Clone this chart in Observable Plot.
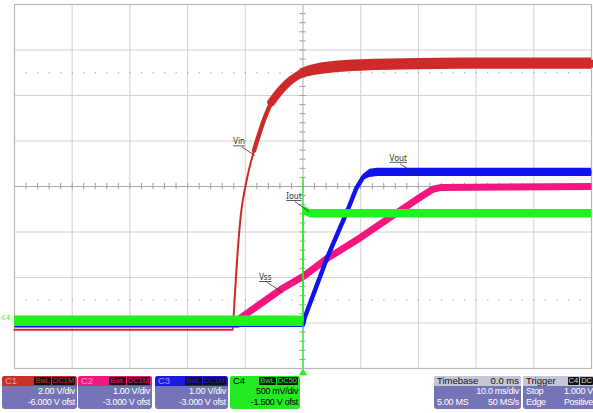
<!DOCTYPE html>
<html><head><meta charset="utf-8">
<script src="https://cdn.jsdelivr.net/npm/d3@7"></script>
<script src="https://cdn.jsdelivr.net/npm/@observablehq/plot@0.6"></script>
<style>
body{margin:0;background:#fff;font-family:"Liberation Sans",Arial,sans-serif;}
#wrap{width:593px;height:413px;position:relative;overflow:hidden;background:#fff;}
#wrap svg{display:block;}
.lbl text{text-decoration:underline;}
.box{position:absolute;top:376px;height:33px;border-radius:3px;background:#7474b6;color:#fff;font-size:9px;overflow:hidden;box-sizing:border-box;}
.hd{height:10px;line-height:10px;padding:0 2px 0 3px;position:relative;font-size:9.5px;}
.ln{height:11px;line-height:11px;padding:0 2px 0 3px;position:relative;letter-spacing:-0.3px;}
.r{position:absolute;right:2px;top:0;}
.l{position:absolute;left:3px;top:0;}
.bd{display:inline-block;background:#111;border-radius:1px;padding:0 1px;height:8px;line-height:8px;font-size:7.5px;margin-left:1px;margin-top:1px;vertical-align:top;}
</style></head>
<body><div id="wrap"></div>
<script>
// Channel settings
const chNames = ["C1", "C2", "C3", "C4"];
const vdiv = [2, 1, 1, 0.5];
const offsets = [-6, -3, -3, -1.5];
const vdivLabels = ["2.00 V/div", "1.00 V/div", "1.00 V/div", "500 mV/div"];
const ofstLabels = ["-6.000 V ofst", "-3.000 V ofst", "-3.000 V ofst", "-1.500 V ofst"];
const couplingLabels = ["DC1M", "DC1M", "DC1M", "DC50"];
const headerColors = ["#c9302c", "#f0187f", "#1c1ce0", "#22ea22"];
const traceColors = ["#cf2a2a", "#f2167e", "#1212ee", "#1ff21f"];

// Vin (C1)
const vinT = [-50, -12.15, -11.96, -11.27, -10.75, -9.88, -8.49, -6.8, -5.5, -3.8, -2.1, -0.35, 2, 4.85, 10, 20, 35, 50];
const vinV = [-0.3, -0.3, 0.55, 3.32, 4.81, 6.13, 7.58, 8.9, 9.7, 10.26, 10.68, 10.95, 11.12, 11.23, 11.32, 11.38, 11.4, 11.4];
const vinN = [0, 0, 0, 0, 0, 0, 0, 0, 0, 0, 0.05, 0.2, 0.24, 0.25, 0.25, 0.25, 0.25, 0.25];
// Vss (C2)
const vssT = [-50, -11.3, -10.75, -3.8, 0, 4.2, 10, 15.8, 20.5, 22.5, 24, 35, 50];
const vssV = [-0.03, -0.03, 0.12, 0.74, 1.02, 1.42, 1.88, 2.38, 2.78, 2.94, 2.98, 2.99, 3.0];
const vssN = [0.03, 0.03, 0.03, 0.03, 0.03, 0.03, 0.03, 0.03, 0.03, 0.04, 0.04, 0.04, 0.04];
// Vout (C3)
const voutT = [-50, 0, 0.3, 4.2, 7.8, 9.2, 10.4, 11.6, 13, 30, 50];
const voutV = [-0.04, -0.04, 0.12, 1.44, 2.5, 2.95, 3.2, 3.29, 3.31, 3.31, 3.31];
const voutN = [0.02, 0.02, 0.02, 0.02, 0.02, 0.03, 0.06, 0.09, 0.09, 0.09, 0.09];
// Iout (C4)
const ioutT = [-50, 0, 0, 0.4, 1.2, 50];
const ioutV = [0.02, 0.02, 1.22, 1.23, 1.2, 1.2];
const ioutN = [0.058, 0.058, 0.047, 0.047, 0.047, 0.047];

// Trace labels (time ms, screen divisions)
const labelText = ["Vin", "Vout", "Iout", "Vss"];
const labelT = [-12.1, 15.0, -2.9, -7.6];
const labelY = [0.98, 0.62, -0.22, -2.0];
const leadT1 = [-10.6, 16.8, -1.4, -6.2];
const leadY1 = [0.87, 0.50, -0.33, -2.11];
const leadT2 = [-8.3, 19.8, 1.0, -3.5];
const leadY2 = [0.68, 0.26, -0.55, -2.33];

const toDiv = (v, ch) => (v + offsets[ch]) / vdiv[ch];
function rows(ch, T, V, N) {
  return T.map((t, i) => ({t, y: toDiv(V[i], ch), y1: toDiv(V[i] - N[i], ch), y2: toDiv(V[i] + N[i], ch)}));
}
// stroke width segments (style): [from, to, width]
const traces = [
  {ch: 0, data: rows(0, vinT, vinV, vinN), segs: [[-50, -8.49, 2], [-8.49, -5.5, 4.5], [-5.5, 50, 8]], curve: "monotone-x", cap: "round"},
  {ch: 1, data: rows(1, vssT, vssV, vssN), segs: [[-50, 50, 7]], curve: "linear", cap: "butt"},
  {ch: 2, data: rows(2, voutT, voutV, voutN), segs: [[-50, 50, 4.5]], curve: "linear", cap: "butt"},
  {ch: 3, data: rows(3, ioutT, ioutV, ioutN), segs: [[-50, 50, 1.5]], curve: "linear", cap: "butt"}
];
const labels = labelText.map((s, i) => ({s, t: labelT[i], y: labelY[i], t1: leadT1[i], y1: leadY1[i], t2: leadT2[i], y2: leadY2[i]}));

const minorX = d3.range(-50, 50.01, 2);
const minorY = d3.range(-4, 4.01, 0.2);
const green = traceColors[3];

const traceMarks = traces.flatMap(tr => [
  Plot.areaY(tr.data.filter(d => d.y2 > d.y1), {x: "t", y1: "y1", y2: "y2", fill: traceColors[tr.ch], curve: tr.curve}),
  ...tr.segs.map(([a, b, w]) =>
    Plot.line(tr.data.filter(d => d.t >= a && d.t <= b), {x: "t", y: "y", stroke: traceColors[tr.ch], strokeWidth: w, curve: tr.curve, strokeLinecap: tr.cap}))
]);

const chart = Plot.plot({
  width: 593, height: 376,
  marginLeft: 14, marginRight: 2, marginTop: 4, marginBottom: 8,
  x: {domain: [-50, 50], axis: null},
  y: {domain: [-4, 4], axis: null},
  style: {overflow: "visible", background: "transparent"},
  marks: [
    Plot.ruleX(d3.range(-40, 50, 10).filter(d => d !== 0), {stroke: "#d2d2d2"}),
    Plot.ruleY(d3.range(-3, 4, 1).filter(d => d !== 0), {stroke: "#d2d2d2"}),
    Plot.ruleY([-2.5, 2.5], {stroke: "#9a9a9a", strokeDasharray: "1.2,10.34"}),
    Plot.ruleX([0], {stroke: "#b0b0b0"}),
    Plot.ruleY([0], {stroke: "#a8a8a8"}),
    Plot.ruleX(minorX, {x: d => d, y1: -0.07, y2: 0.07, stroke: "#a0a0a0"}),
    Plot.ruleY(minorY, {y: d => d, x1: -0.55, x2: 0.55, stroke: "#a0a0a0"}),
    Plot.frame({stroke: "#b8b8b8", strokeWidth: 1.2}),
    ...traceMarks,
    Plot.ruleX([ioutT[1]], {y1: -4, y2: 0.2, stroke: green, strokeWidth: 1.2}),
    Plot.dot([ioutT[1]], {x: d => d, y: -4, dy: 4.5, symbol: "triangle", r: 3, fill: green, stroke: null}),
    Plot.text([chNames[3]], {x: -50, y: toDiv(ioutV[0], 3), dx: -13, dy: -3, text: d => d, fill: green, fontSize: 7, textAnchor: "start"}),
    Plot.link(labels, {x1: "t1", y1: "y1", x2: "t2", y2: "y2", stroke: "#333", strokeWidth: 0.8}),
    Plot.text(labels, {x: "t", y: "y", text: "s", fontSize: 8, fill: "#333", textAnchor: "start", className: "lbl"})
  ]
});
const wrap = document.getElementById("wrap");
wrap.appendChild(chart);

// Info panel boxes
const boxLeft = [2, 78, 155, 230];
const boxWidth = [75, 74, 73, 70];
chNames.forEach((c, i) => {
  const b = document.createElement("div");
  b.className = "box";
  b.style.left = boxLeft[i] + "px";
  b.style.width = boxWidth[i] + "px";
  const sel = i === 3;
  if (sel) { b.style.background = headerColors[3]; b.style.color = "#000"; }
  const hc = headerColors[i];
  b.innerHTML =
    `<div class="hd" style="background:${hc};color:${sel ? "#000" : "rgba(255,255,255,0.55)"}">${c}` +
    `<span class="r"><span class="bd" style="color:${hc}">BwL</span><span class="bd" style="color:${hc}">${couplingLabels[i]}</span></span></div>` +
    `<div class="ln"><span class="r">${vdivLabels[i]}</span></div>` +
    `<div class="ln"><span class="r">${ofstLabels[i]}</span></div>`;
  wrap.appendChild(b);
});
const tb = document.createElement("div");
tb.className = "box"; tb.style.left = "434px"; tb.style.width = "87px";
tb.innerHTML = `<div class="hd" style="background:#c6c6d6;color:#111">Timebase<span class="r">0.0 ms</span></div>` +
  `<div class="ln"><span class="r">10.0 ms/div</span></div>` +
  `<div class="ln"><span class="l">5.00 MS</span><span class="r">50 MS/s</span></div>`;
wrap.appendChild(tb);
const tg = document.createElement("div");
tg.className = "box"; tg.style.left = "523px"; tg.style.width = "74px";
tg.innerHTML = `<div class="hd" style="background:#c6c6d6;color:#111">Trigger<span class="r" style="right:4px"><span class="bd" style="color:#ddd">C4</span><span class="bd" style="color:#ddd">DC</span></span></div>` +
  `<div class="ln"><span class="l">Stop</span><span class="r" style="right:4px">1.000 V</span></div>` +
  `<div class="ln"><span class="l">Edge</span><span class="r" style="right:4px">Positive</span></div>`;
wrap.appendChild(tg);
</script>
</body></html>
